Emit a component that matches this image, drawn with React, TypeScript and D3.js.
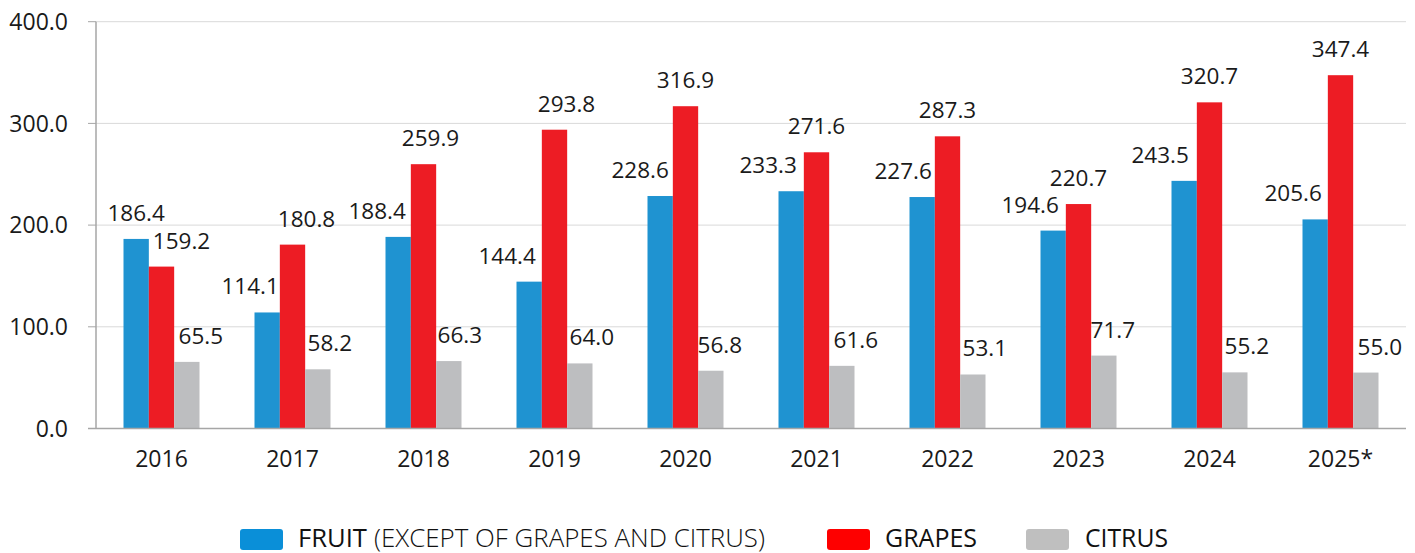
import React from "react";
import * as d3 from "d3";

const categories = ["2016", "2017", "2018", "2019", "2020", "2021", "2022", "2023", "2024", "2025*"];
const fruit = [186.4, 114.1, 188.4, 144.4, 228.6, 233.3, 227.6, 194.6, 243.5, 205.6];
const grapes = [159.2, 180.8, 259.9, 293.8, 316.9, 271.6, 287.3, 220.7, 320.7, 347.4];
const citrus = [65.5, 58.2, 66.3, 64.0, 56.8, 61.6, 53.1, 71.7, 55.2, 55.0];
const yTicks = [0, 100, 200, 300, 400];
const seriesNames = ["fruit", "grapes", "citrus"];

// layout: horizontal nudges of value labels (px), as placed in the original
const labelNudge: Record<string, number[]> = {
  fruit: [0, -17, -21, -22, -20, -23, -19, -23, -24, -22],
  grapes: [20, 14, 7, 12, 0, 0, 0, 0, 0, 0],
  citrus: [14, 12, 11, 12, 9, 14, 12, 9, 12, 14],
};

const W = 1415;
const H = 553;
const left = 96;
const right = 1406;
const top = 21.7;
const bottom = 428.5;

const barColors: Record<string, string> = {
  fruit: "#1f93d1",
  grapes: "#ed1c24",
  citrus: "#bdbec0",
};
const FONT = "'Open Sans', 'Noto Sans', sans-serif";

export default function App() {
  const x = d3.scaleBand<string>().domain(categories).range([left, right]).padding(0);
  const groupW = 76;
  const xs = d3
    .scaleBand<string>()
    .domain(seriesNames)
    .range([(x.bandwidth() - groupW) / 2, (x.bandwidth() + groupW) / 2])
    .padding(0);
  const y = d3.scaleLinear().domain([0, 400]).range([bottom, top]);
  const data: Record<string, number[]> = { fruit, grapes, citrus };
  const fmt = d3.format(".1f");

  return (
    <svg width={W} height={H} style={{ position: "absolute", left: 0, top: 0, background: "#fff" }}>
      {/* gridlines */}
      {yTicks.map((t) => (
        <g key={t}>
          {t > 0 && (
            <line x1={left} x2={right} y1={y(t)} y2={y(t)} stroke="#d9d9d9" strokeWidth={1} />
          )}
          <line x1={88} x2={left} y1={y(t)} y2={y(t)} stroke="#a6a6a6" strokeWidth={1} />
          <text
            x={68}
            y={y(t)}
            dy="0.36em"
            textAnchor="end"
            fontFamily={FONT}
            fontSize={23}
            fill="#1a1a1a"
          >
            {fmt(t)}
          </text>
        </g>
      ))}
      {/* bars */}
      {categories.map((c, i) => (
        <g key={c} transform={`translate(${x(c)},0)`}>
          {seriesNames.map((s) => {
            const v = data[s][i];
            const bx = xs(s) as number;
            return (
              <rect
                key={s}
                x={bx}
                y={y(v)}
                width={xs.bandwidth()}
                height={y(0) - y(v)}
                fill={barColors[s]}
              />
            );
          })}
          {seriesNames.map((s) => {
            const v = data[s][i];
            const cx = (xs(s) as number) + xs.bandwidth() / 2 + labelNudge[s][i];
            return (
              <text
                key={"l" + s}
                x={cx}
                y={y(v) - 18}
                textAnchor="middle"
                fontFamily={FONT}
                fontSize={22.5}
                fill="#1a1a1a"
              >
                {fmt(v)}
              </text>
            );
          })}
          <text
            x={x.bandwidth() / 2}
            y={467}
            textAnchor="middle"
            fontFamily={FONT}
            fontSize={23}
            fill="#1a1a1a"
          >
            {c}
          </text>
        </g>
      ))}
      {/* axes */}
      <line x1={left} x2={left} y1={top} y2={bottom} stroke="#a6a6a6" strokeWidth={1.5} />
      <line x1={88} x2={right} y1={bottom} y2={bottom} stroke="#a6a6a6" strokeWidth={1.5} />
      {/* legend */}
      <g>
        <rect x={240} y={529} width={43} height={21} rx={3} fill="#0a8fd8" />
        <text x={298} y={546.5} fontFamily={FONT} fontSize={26} fill="#111" textLength={69} lengthAdjust="spacingAndGlyphs">
          FRUIT
        </text>
        <text x={374} y={546.5} fontFamily={FONT} fontWeight={300} fontSize={26} fill="#111" textLength={391} lengthAdjust="spacingAndGlyphs">
          (EXCEPT OF GRAPES AND CITRUS)
        </text>
        <rect x={827} y={529} width={43} height={21} rx={3} fill="#fe0000" />
        <text x={885} y={546.5} fontFamily={FONT} fontSize={26} fill="#111" textLength={92} lengthAdjust="spacingAndGlyphs">
          GRAPES
        </text>
        <rect x={1026} y={529} width={43} height={21} rx={3} fill="#bfbfbf" />
        <text x={1085} y={546.5} fontFamily={FONT} fontSize={26} fill="#111" textLength={83} lengthAdjust="spacingAndGlyphs">
          CITRUS
        </text>
      </g>
    </svg>
  );
}
